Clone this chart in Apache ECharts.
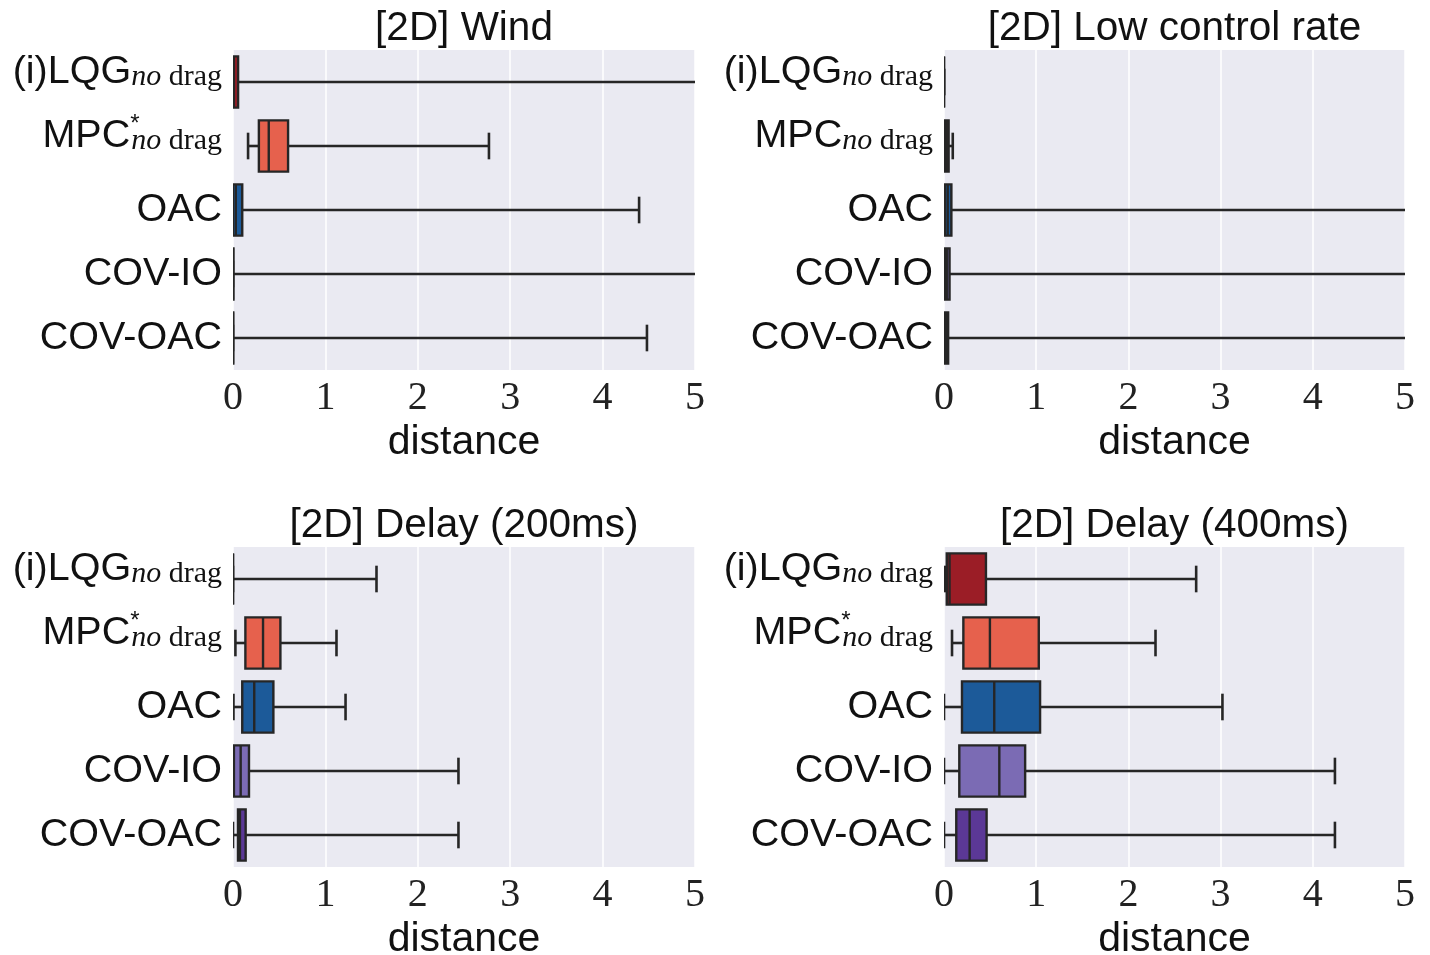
<!DOCTYPE html>
<html>
<head>
<meta charset="utf-8">
<script src="https://cdn.jsdelivr.net/npm/echarts@6/dist/echarts.min.js"></script>
<style>html,body{margin:0;padding:0;background:#fff;}#c{width:1430px;height:955px;}</style>
</head>
<body>
<div id="c"></div>
<script>
// ---- data (each row: [whisker low, Q1, median, Q3, whisker high]) ----
const methods = ['(i)LQG', 'MPC*', 'OAC', 'COV-IO', 'COV-OAC'];
const methodsLowRate = ['(i)LQG', 'MPC', 'OAC', 'COV-IO', 'COV-OAC'];
const panelTitles = ['[2D] Wind', '[2D] Low control rate', '[2D] Delay (200ms)', '[2D] Delay (400ms)'];
const xTicks = [0, 1, 2, 3, 4, 5];
const axisName = 'distance';

const windStats = [
  [0, 0, 0.01, 0.055, 5.6],
  [0.163, 0.28, 0.387, 0.596, 2.77],
  [0, 0, 0.03, 0.10, 4.395],
  [0, 0, 0, 0.005, 5.6],
  [0, 0, 0, 0.003, 4.48]
];
const lowRateStats = [
  [0, 0, 0, 0, 0],
  [0.01, 0.01, 0.03, 0.05, 0.095],
  [0.01, 0.01, 0.04, 0.08, 5.6],
  [0.01, 0.01, 0.03, 0.06, 5.6],
  [0, 0, 0.02, 0.045, 5.6]
];
const delay200Stats = [
  [0, 0, 0, 0, 1.553],
  [0.026, 0.134, 0.325, 0.513, 1.12],
  [0.005, 0.10, 0.23, 0.437, 1.218],
  [0, 0.01, 0.083, 0.173, 2.44],
  [0, 0.054, 0.075, 0.137, 2.44]
];
const delay400Stats = [
  [0.01, 0.03, 0.06, 0.455, 2.735],
  [0.087, 0.21, 0.498, 1.028, 2.294],
  [0, 0.195, 0.545, 1.042, 3.02],
  [0, 0.166, 0.60, 0.88, 4.24],
  [0, 0.133, 0.278, 0.462, 4.24]
];
const boxColors = ['#9b1d26', '#e6614d', '#1c5a99', '#7b6bb4', '#5b3896'];

// ---- chart ----
const panels = [
  {stats: windStats, cats: methods},
  {stats: lowRateStats, cats: methodsLowRate},
  {stats: delay200Stats, cats: methods},
  {stats: delay400Stats, cats: methods}
];
const grids = [
  {left: 233, top: 50, width: 462, height: 320},
  {left: 944, top: 50, width: 461, height: 320},
  {left: 233, top: 547, width: 462, height: 320},
  {left: 944, top: 547, width: 461, height: 320}
];

const SANS = 'Liberation Sans';
const SERIF = 'Liberation Serif';
const rich = {
  m: {fontFamily: SANS, fontSize: 39.5, color: '#111', lineHeight: 40, verticalAlign: 'top', align: 'left'},
  si: {fontFamily: SERIF, fontStyle: 'italic', fontSize: 30, color: '#111', lineHeight: 60, verticalAlign: 'top', align: 'left', padding: [10, 0, 0, 0]},
  s: {fontFamily: SERIF, fontSize: 30, color: '#111', lineHeight: 60, verticalAlign: 'top', align: 'left', padding: [10, 0, 0, 0]},
  st: {fontFamily: SANS, fontSize: 24, color: '#111', lineHeight: 12, height: 17, verticalAlign: 'top', align: 'left', width: 1},
  p: {fontFamily: SANS, fontSize: 39.5, color: '#111', lineHeight: 40}
};
function labelFmt(v) {
  if (v === '(i)LQG') return '{m|(i)LQG}{si|no}{s| drag}';
  if (v === 'MPC*') return '{m|MPC}{st|*}{si|no}{s| drag}';
  if (v === 'MPC') return '{m|MPC}{si|no}{s| drag}';
  return '{p|' + v + '}';
}

function renderItem(params, api) {
  const ci = api.value(0);
  const pLo = api.coord([api.value(1), ci]);
  const pQ1 = api.coord([api.value(2), ci]);
  const pMd = api.coord([api.value(3), ci]);
  const pQ3 = api.coord([api.value(4), ci]);
  const pHi = api.coord([api.value(5), ci]);
  const band = api.size([0, 1])[1];
  const h = band * 0.8;
  const cap = h * 0.52;
  const y = pLo[1];
  const ls = {stroke: '#262626', lineWidth: 2.6};
  return {
    type: 'group',
    children: [
      {type: 'line', shape: {x1: pLo[0], y1: y, x2: pQ1[0], y2: y}, style: ls},
      {type: 'line', shape: {x1: pQ3[0], y1: y, x2: pHi[0], y2: y}, style: ls},
      {type: 'line', shape: {x1: pLo[0], y1: y - cap / 2, x2: pLo[0], y2: y + cap / 2}, style: ls},
      {type: 'line', shape: {x1: pHi[0], y1: y - cap / 2, x2: pHi[0], y2: y + cap / 2}, style: ls},
      {type: 'rect', shape: {x: pQ1[0], y: y - h / 2, width: pQ3[0] - pQ1[0], height: h},
        style: {fill: boxColors[ci], stroke: '#262626', lineWidth: 2.4}},
      {type: 'line', shape: {x1: pMd[0], y1: y - h / 2, x2: pMd[0], y2: y + h / 2}, style: {stroke: '#262626', lineWidth: 2.4}}
    ]
  };
}

const option = {
  animation: false,
  backgroundColor: '#ffffff',
  title: panelTitles.map((t, i) => ({
    text: t,
    left: grids[i].left + grids[i].width / 2,
    top: grids[i].top - 42,
    textAlign: 'center',
    padding: 0,
    textStyle: {fontFamily: SANS, fontSize: 40.5, fontWeight: 'normal', color: '#111'}
  })),
  grid: grids.map(g => Object.assign({show: true, backgroundColor: '#eaeaf2', borderWidth: 0, containLabel: false, outerBoundsMode: 'none'}, g)),
  xAxis: grids.map((g, i) => ({
    type: 'value', gridIndex: i, min: xTicks[0], max: xTicks[xTicks.length - 1], interval: 1,
    name: axisName, nameLocation: 'middle', nameGap: 52,
    nameTextStyle: {fontFamily: SANS, fontSize: 41, color: '#111'},
    axisLine: {show: false}, axisTick: {show: false},
    axisLabel: {fontFamily: SERIF, fontSize: 40, color: '#222', margin: 8},
    splitLine: {show: true, lineStyle: {color: '#ffffff', width: 1.5}}
  })),
  yAxis: panels.map((p, i) => ({
    type: 'category', gridIndex: i, data: p.cats, inverse: true,
    axisLine: {show: false}, axisTick: {show: false}, splitLine: {show: false},
    axisLabel: {margin: 11, formatter: labelFmt, rich: rich}
  })),
  series: panels.map((p, i) => ({
    type: 'custom', xAxisIndex: i, yAxisIndex: i, clip: true,
    renderItem: renderItem,
    encode: {x: [1, 2, 3, 4, 5], y: 0},
    data: p.stats.map((s, k) => [k].concat(s))
  }))
};
const chart = echarts.init(document.getElementById('c'), null, {renderer: 'canvas'});
chart.setOption(option);
</script>
</body>
</html>
